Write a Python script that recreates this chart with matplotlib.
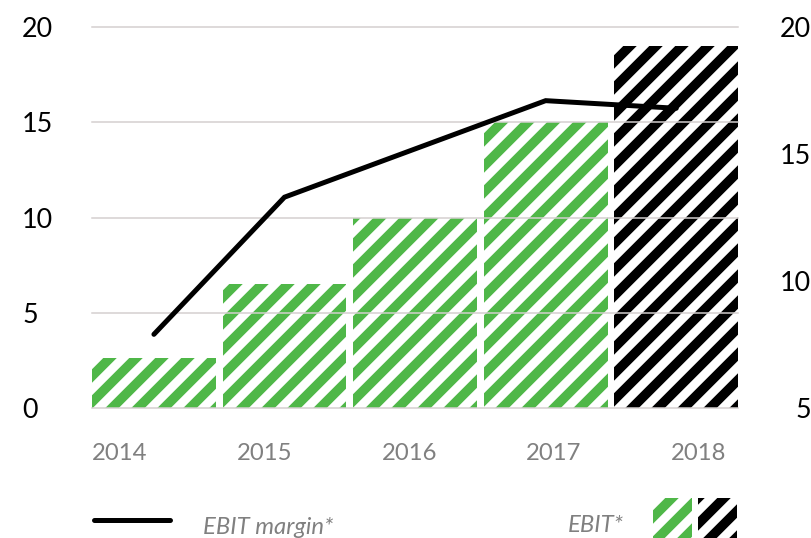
import matplotlib
matplotlib.use('Agg')
import matplotlib.pyplot as plt
from matplotlib.patches import Patch
from matplotlib.lines import Line2D
from matplotlib.legend_handler import HandlerTuple

# ---- data ----
years = ['2014', '2015', '2016', '2017', '2018']
ebit = [2.6, 6.5, 10.0, 15.0, 19.0]
ebit_margin = [7.9, 13.3, 15.2, 17.1, 16.8]
left_ticks = [0, 5, 10, 15, 20]
right_ticks = [5, 10, 15, 20]

GREEN = '#4fb748'
GRID = '#d4cfcf'
GREY_TXT = '#808080'
DPI = 156
W, H = 811, 538
FS = 11  # pt
EM = FS * DPI / 72.0
HATCH = '//'

plt.rcParams['font.family'] = ['Lato', 'DejaVu Sans']
plt.rcParams['hatch.linewidth'] = 4.4

fig = plt.figure(figsize=(W / DPI, H / DPI), dpi=DPI)
fig.patch.set_facecolor('white')
ax = fig.add_axes([92 / W, 1 - 408 / H, 646 / W, 381 / H])

x = list(range(len(years)))
bar_colors = [GREEN] * (len(years) - 1) + ['black']
ax.bar(x, ebit, width=0.948, color='white', edgecolor=bar_colors,
       linewidth=0, hatch=HATCH)
ax.set_xlim(-0.474, 4.473)
ax.set_ylim(0, 20)
ax.set_yticks(left_ticks)
ax.set_xticks([])
ax.grid(axis='y', color=GRID, lw=0.7)
ax.set_axisbelow(False)
for s in ax.spines.values():
    s.set_visible(False)
ax.tick_params(axis='y', length=0, pad=70 * 72 / DPI, labelsize=12.4,
               labelcolor='black')
for lbl in ax.get_yticklabels():
    lbl.set_ha('left')
for gl in ax.get_ygridlines():
    gl.set_clip_on(False)

ax2 = ax.twinx()
ax2.set_ylim(5, 20)
ax2.set_yticks(right_ticks)
ax2.tick_params(axis='y', length=0, pad=73 * 72 / DPI, labelsize=12.4,
                labelcolor='black')
for lbl in ax2.get_yticklabels():
    lbl.set_ha('right')
for s in ax2.spines.values():
    s.set_visible(False)
ax2.plot(x, ebit_margin, color='black', lw=2.3, solid_capstyle='round',
         solid_joinstyle='miter')

ax3 = ax.twiny()
ax3.set_xlim(-0.191, 4.271)
ax3.set_xticks(x)
ax3.set_xticklabels(years)
ax3.xaxis.tick_bottom()
ax3.tick_params(axis='x', length=0, pad=35 * 72 / DPI, labelsize=FS,
                labelcolor=GREY_TXT)
for s in ax3.spines.values():
    s.set_visible(False)

# ---- legends ----
line_handle = Line2D([], [], color='black', lw=2.3, solid_capstyle='round')
leg1 = fig.legend(handles=[line_handle], labels=['EBIT margin*'],
                  loc='upper left', bbox_to_anchor=(94 / W, 1 - 506 / H),
                  frameon=False, borderpad=0, borderaxespad=0,
                  handlelength=76 / EM, handleheight=56 / EM,
                  handletextpad=33 / EM,
                  prop=dict(size=FS, style='italic'),
                  labelcolor=GREY_TXT)

green_p = Patch(facecolor='white', edgecolor=GREEN, linewidth=0, hatch=HATCH)
black_p = Patch(facecolor='white', edgecolor='black', linewidth=0, hatch=HATCH)
leg2 = fig.legend(handles=[(green_p, black_p)], labels=['EBIT*'],
                  handler_map={tuple: HandlerTuple(ndivide=None, pad=6 / EM)},
                  markerfirst=False, loc='upper right',
                  bbox_to_anchor=(737 / W, 1 - 497.6 / H),
                  frameon=False, borderpad=0, borderaxespad=0,
                  handlelength=84 / EM, handleheight=77 / EM,
                  handletextpad=29 / EM,
                  prop=dict(size=FS, style='italic'),
                  labelcolor=GREY_TXT)

fig.savefig('out.png', dpi=DPI, facecolor='white')
